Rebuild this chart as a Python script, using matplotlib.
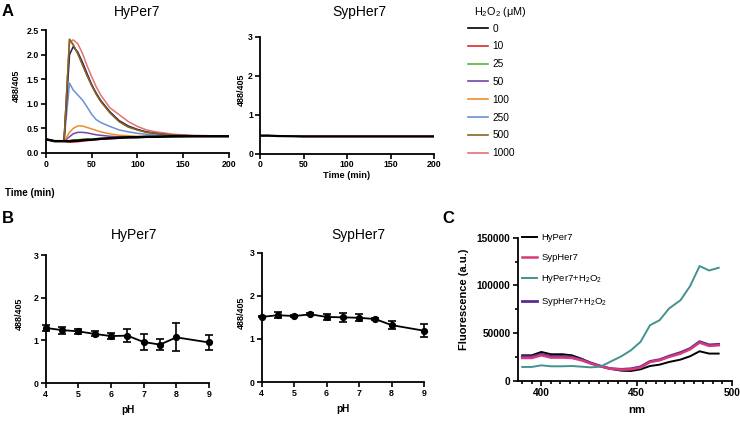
import matplotlib
matplotlib.use("Agg")
import matplotlib.pyplot as plt
import numpy as np

plt.rcParams['font.family'] = ['Liberation Sans', 'DejaVu Sans']
plt.rcParams['mathtext.fontset'] = 'custom'
plt.rcParams['mathtext.rm'] = 'Liberation Sans'

# ---- panel A: time course, HyPer7 ----
t = [0, 5, 10, 15, 20, 26, 30, 35, 40, 45, 50, 55, 60, 70, 80, 90, 100, 110, 120, 140, 160, 180, 200]
base = [0.28, 0.26, 0.24, 0.24, 0.24]
c0 = base + [0.24, 0.25, 0.25, 0.26, 0.27, 0.27, 0.28, 0.29, 0.30, 0.31, 0.32, 0.32, 0.33, 0.33, 0.34, 0.34, 0.34, 0.34]
c10 = base + [0.22, 0.22, 0.23, 0.24, 0.25, 0.26, 0.27, 0.28, 0.29, 0.30, 0.31, 0.32, 0.32, 0.33, 0.33, 0.34, 0.34, 0.34]
c25 = base + [0.25, 0.26, 0.27, 0.28, 0.28, 0.28, 0.29, 0.29, 0.30, 0.31, 0.31, 0.32, 0.32, 0.33, 0.33, 0.34, 0.34, 0.34]
c50 = base + [0.33, 0.39, 0.42, 0.42, 0.41, 0.39, 0.37, 0.36, 0.34, 0.33, 0.33, 0.33, 0.33, 0.34, 0.34, 0.34, 0.34, 0.34]
c100 = base + [0.42, 0.50, 0.55, 0.55, 0.52, 0.49, 0.46, 0.43, 0.39, 0.36, 0.35, 0.34, 0.34, 0.34, 0.34, 0.34, 0.34, 0.34]
c250 = base + [1.42, 1.28, 1.18, 1.08, 0.94, 0.79, 0.68, 0.62, 0.54, 0.47, 0.43, 0.40, 0.38, 0.37, 0.35, 0.35, 0.35, 0.35]
c500 = base + [2.31, 2.20, 2.02, 1.80, 1.58, 1.38, 1.20, 1.05, 0.82, 0.64, 0.53, 0.47, 0.42, 0.40, 0.36, 0.35, 0.35, 0.35]
c_navy = base + [2.00, 2.16, 2.05, 1.85, 1.62, 1.40, 1.22, 1.07, 0.84, 0.66, 0.55, 0.48, 0.43, 0.40, 0.36, 0.35, 0.35, 0.35]
c1000 = base + [2.25, 2.30, 2.22, 2.03, 1.78, 1.56, 1.35, 1.18, 0.92, 0.78, 0.64, 0.54, 0.47, 0.43, 0.38, 0.36, 0.35, 0.35]

conc_labels = ['0', '10', '25', '50', '100', '250', '500', '1000']
conc_colors = ['#000000', '#e02a2a', '#5bb53a', '#7446a8', '#ee8c2c', '#6a90d6', '#8a6422', '#e57272']

# SypHer7 time course (flat)
t_syp = [0, 10, 20, 50, 100, 150, 200]
syp_ratio = [0.46, 0.46, 0.45, 0.44, 0.44, 0.44, 0.44]

# ---- panel B: pH dependence ----
ph = [4, 4.5, 5, 5.5, 6, 6.5, 7, 7.5, 8, 9]
hy_ph = [1.29, 1.24, 1.21, 1.15, 1.10, 1.11, 0.96, 0.90, 1.07, 0.95]
hy_err = [0.07, 0.08, 0.05, 0.06, 0.07, 0.15, 0.18, 0.12, 0.33, 0.18]
syp_ph = [1.51, 1.55, 1.53, 1.57, 1.51, 1.50, 1.49, 1.46, 1.32, 1.19]
syp_err = [0.01, 0.07, 0.02, 0.02, 0.06, 0.11, 0.08, 0.02, 0.10, 0.15]

# ---- panel C: excitation spectra ----
nm = [390, 395, 400, 405, 411, 416, 421, 426, 431, 436, 442, 447, 452, 457, 462, 467, 473, 478, 483, 488, 493]
hyper7 = [26900, 26900, 30400, 28000, 28000, 26900, 23400, 18900, 15400, 12900, 10800, 10500, 12200, 15700,
          17100, 19900, 22400, 25900, 31100, 28700, 28700]
sypher7 = [24100, 24100, 26900, 24500, 24500, 24100, 21700, 18200, 15400, 12900, 11900, 12200, 14000, 19900,
           21700, 25200, 28700, 33200, 40200, 36700, 37400]
hyper7_h2o2 = [14700, 14700, 16400, 15400, 15400, 15700, 15000, 14300, 15000, 20000, 25900, 32200, 40900, 58400,
               63600, 75900, 84600, 99300, 120300, 115700, 118500]
sypher7_h2o2 = [25500, 25500, 28000, 25800, 25800, 25000, 22500, 18800, 15700, 13000, 12200, 12800, 14800, 20500,
                22300, 26000, 29800, 34000, 41200, 37800, 38400]

W, H = 740, 423
fig = plt.figure(figsize=(W / 100, H / 100), dpi=100)


def ax_px(l, r, top, bot):
    return fig.add_axes([l / W, 1 - bot / H, (r - l) / W, (bot - top) / H])


def txt(x, y, s, **kw):
    kw.setdefault('ha', 'center')
    kw.setdefault('va', 'center')
    fig.text(x / W, 1 - y / H, s, **kw)


def style(ax, fs=6):
    for s in ['top', 'right']:
        ax.spines[s].set_visible(False)
    for s in ['left', 'bottom']:
        ax.spines[s].set_linewidth(1.3)
    ax.tick_params(width=1.2, length=3.5, labelsize=fs, pad=1.5)
    ax.tick_params(which='minor', width=1.2, length=2.5)
    for lab in ax.get_xticklabels() + ax.get_yticklabels():
        lab.set_fontweight('bold')


# A1
a1 = ax_px(45.7, 229, 30, 153)
series = [c0, c10, c25, c50, c100, c250, c500, c1000]
for vals, lab, col in list(zip(series, conc_labels, conc_colors))[1:]:
    a1.plot(t, vals, color=col, lw=1.1, label=lab)
a1.plot(t, c_navy, color='#1d1f5e', lw=1.1)
a1.plot(t, c500, color=conc_colors[6], lw=1.1)
a1.plot(t, c0, color='#000000', lw=1.8, label='0')
a1.set_xlim(0, 200)
a1.set_ylim(0, 2.5)
a1.set_xticks([0, 50, 100, 150, 200])
a1.set_yticks([0, 0.5, 1.0, 1.5, 2.0, 2.5])
a1.set_yticklabels(['0.0', '0.5', '1.0', '1.5', '2.0', '2.5'])
style(a1, 6.3)

# A2
a2 = ax_px(260, 434, 37, 153.5)
for col in conc_colors[1:]:
    a2.plot(t_syp, syp_ratio, color=col, lw=1.0)
a2.plot(t_syp, syp_ratio, color='#000000', lw=1.6)
a2.set_xlim(0, 200)
a2.set_ylim(0, 3)
a2.set_xticks([0, 50, 100, 150, 200])
a2.set_yticks([0, 1, 2, 3])
style(a2, 6.3)

# legend for A
handles = [plt.Line2D([], [], color=c, lw=1.2) for c in conc_colors]
leg = fig.legend(handles, conc_labels, loc='upper left', bbox_to_anchor=(468 / W, 1 - 23.5 / H),
                 frameon=False, fontsize=7.3, handlelength=2.0, handletextpad=0.4,
                 labelspacing=0.77, borderpad=0, borderaxespad=0)
txt(474, 12, 'H$_2$O$_2$ (μM)', ha='left', fontsize=7.8)

# B1
b1 = ax_px(45.7, 209, 255, 383)
b1.errorbar(ph, hy_ph, yerr=hy_err, color='black', lw=1.3, marker='o', ms=4.2,
            capsize=3, capthick=1.2, elinewidth=1.2, clip_on=False)
b1.set_xlim(4, 9)
b1.set_ylim(0, 3)
b1.set_xticks([4, 5, 6, 7, 8, 9])
b1.set_yticks([0, 1, 2, 3])
style(b1, 6.3)

# B2
b2 = ax_px(261.7, 424, 252.7, 382)
b2.errorbar(ph, syp_ph, yerr=syp_err, color='black', lw=1.3, marker='o', ms=4.2,
            capsize=3, capthick=1.2, elinewidth=1.2, clip_on=False)
b2.set_xlim(4, 9)
b2.set_ylim(0, 3)
b2.set_xticks([4, 5, 6, 7, 8, 9])
b2.set_yticks([0, 1, 2, 3])
style(b2, 6.3)

# C
cx = ax_px(517.5, 732, 237.7, 381)
cx.plot(nm, hyper7, color='black', lw=1.4, label='HyPer7')
cx.plot(nm, sypher7_h2o2, color='#5a2d91', lw=2.0, label='SypHer7+H$_2$O$_2$')
cx.plot(nm, sypher7, color='#d63a7a', lw=1.8, label='SypHer7')
cx.plot(nm, hyper7_h2o2, color='#44928f', lw=1.4, label='HyPer7+H$_2$O$_2$')
cx.set_xlim(387.5, 500)
cx.set_ylim(0, 150000)
cx.set_xticks([400, 450, 500])
cx.set_xticks(np.arange(390, 500, 5), minor=True)
cx.set_yticks([0, 50000, 100000, 150000])
cx.set_yticks([25000, 75000, 125000], minor=True)
style(cx, 7.3)
h, l = cx.get_legend_handles_labels()
order = [0, 2, 3, 1]
cx.legend([h[i] for i in order], [l[i] for i in order], loc='upper left',
          bbox_to_anchor=(0.02, 1.03), frameon=False, fontsize=6.8, handlelength=1.6,
          handletextpad=0.45, labelspacing=1.15, borderpad=0, borderaxespad=0)

# titles, labels, panel letters
txt(137, 12, 'HyPer7', fontsize=10)
txt(359, 12, 'SypHer7', fontsize=10)
txt(134, 235, 'HyPer7', fontsize=10)
txt(358, 235, 'SypHer7', fontsize=10)

txt(16, 86, '488/405', rotation=90, fontsize=6.5, fontweight='bold')
txt(241.5, 90, '488/405', rotation=90, fontsize=6.5, fontweight='bold')
txt(19, 314, '488/405', rotation=90, fontsize=6.5, fontweight='bold')
txt(241.5, 313, '488/405', rotation=90, fontsize=6.5, fontweight='bold')
txt(464, 299, 'Fluorescence (a.u.)', rotation=90, fontsize=8, fontweight='bold')

txt(5, 193, 'Time (min)', ha='left', fontsize=7, fontweight='bold')
txt(347, 176, 'Time (min)', fontsize=6.7, fontweight='bold')
txt(128, 410, 'pH', fontsize=7.2, fontweight='bold')
txt(343, 409, 'pH', fontsize=7.2, fontweight='bold')
txt(637, 410, 'nm', fontsize=8.2, fontweight='bold')

txt(2, 12, 'A', ha='left', fontsize=12, fontweight='bold')
txt(2, 218, 'B', ha='left', fontsize=12, fontweight='bold')
txt(442, 218, 'C', ha='left', fontsize=12, fontweight='bold')

fig.savefig('out.png', dpi=100)
